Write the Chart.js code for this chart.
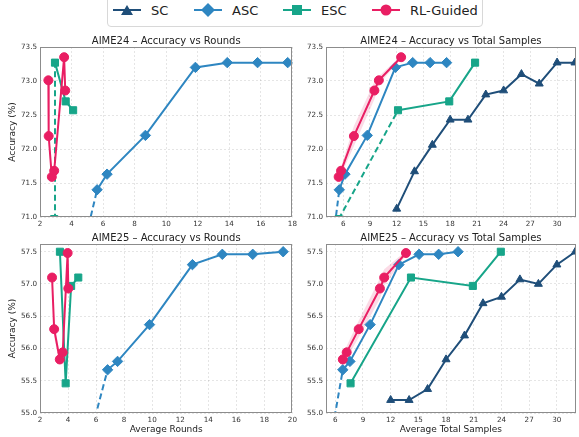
<!DOCTYPE html>
<html>
<head>
<meta charset="utf-8">
<script src="https://cdn.jsdelivr.net/npm/chart.js@4.4.1/dist/chart.umd.min.js"></script>
<style>
html, body { margin: 0; padding: 0; background: #fff; overflow: hidden; }
#wrap { position: relative; width: 579px; height: 437px; overflow: hidden; font-family: "DejaVu Sans", sans-serif; }
#wrap canvas { position: absolute; }
#legend { position: absolute; left: 107px; top: -4px; width: 376px; height: 31px; border: 1px solid #d8d8d8; border-radius: 4px; box-sizing: border-box; background: #fff; }
.lg { position: absolute; top: 4px; height: 20px; }
.lg svg { position: absolute; left: 0; top: 2px; }
.lg span { position: absolute; top: 0; font-size: 13px; line-height: 20px; color: #222; white-space: nowrap; }
</style>
</head>
<body>
<div id="wrap">
  <div id="legend"></div>
  <canvas id="c24r" width="300" height="201" style="left:0;top:28px"></canvas>
  <canvas id="c24s" width="282" height="201" style="left:300px;top:28px"></canvas>
  <canvas id="c25r" width="300" height="208" style="left:0;top:229px"></canvas>
  <canvas id="c25s" width="282" height="208" style="left:300px;top:229px"></canvas>
</div>
<script>
const seriesNames = ['SC', 'ASC', 'ESC', 'RL-Guided'];

// AIME24
const a24ScSamples = [12, 14, 16, 18, 20, 22, 24, 26, 28, 30, 32];
const a24ScAcc = [71.12, 71.67, 72.06, 72.43, 72.43, 72.80, 72.86, 73.10, 72.96, 73.27, 73.27];
const a24AscRounds = [4.8, 5.62, 6.25, 8.68, 11.85, 13.87, 15.79, 17.7];
const a24AscSamples = [4.8, 5.56, 6.2, 8.7, 11.86, 13.8, 15.75, 17.6];
const a24AscAcc = [70.6, 71.40, 71.63, 72.20, 73.20, 73.27, 73.27, 73.27];
const a24EscRounds = [2.9, 4.1, 3.63, 2.95];
const a24EscSamples = [5.5, 12.15, 17.9, 20.8];
const a24EscAcc = [70.97, 72.57, 72.70, 73.27];
const a24RlRounds = [2.75, 2.9, 2.55, 3.6, 2.53, 3.53];
const a24RlSamples = [5.49, 5.76, 7.2, 9.5, 10.0, 12.5];
const a24RlAcc = [71.59, 71.68, 72.19, 72.86, 73.01, 73.35];
const a24RlStd = [0.03, 0.06, 0.15, 0.13, 0.06, 0.02];

// AIME25
const a25ScSamples = [12, 14, 16, 18, 20, 22, 24, 26, 28, 30, 32];
const a25ScAcc = [55.20, 55.20, 55.37, 55.83, 56.20, 56.70, 56.80, 57.07, 57.00, 57.30, 57.50];
const a25AscRounds = [5.4, 6.82, 7.53, 9.81, 12.87, 15.0, 17.17, 19.34];
const a25AscSamples = [5.4, 6.82, 7.59, 9.78, 12.9, 15.08, 17.2, 19.3];
const a25AscAcc = [54.5, 55.67, 55.80, 56.37, 57.30, 57.46, 57.46, 57.50];
const a25EscRounds = [3.83, 4.73, 4.22, 3.42];
const a25EscSamples = [7.66, 14.2, 20.9, 23.93];
const a25EscAcc = [55.46, 57.10, 56.97, 57.50];
const a25RlRounds = [3.41, 3.62, 3.01, 4.02, 2.86, 3.97];
const a25RlSamples = [6.82, 7.24, 8.54, 10.84, 11.3, 13.66];
const a25RlAcc = [55.83, 55.94, 56.30, 56.93, 57.10, 57.48];
const a25RlStd = [0.08, 0.10, 0.13, 0.16, 0.13, 0.03];

// ticks
const roundTicks24 = [2, 4, 6, 8, 10, 12, 14, 16, 18];
const roundTicks25 = [2, 4, 6, 8, 10, 12, 14, 16, 18, 20];
const sampleTicks = [6, 9, 12, 15, 18, 21, 24, 27, 30];
const accTicks24 = [71.0, 71.5, 72.0, 72.5, 73.0, 73.5];
const accTicks25 = [55.0, 55.5, 56.0, 56.5, 57.0, 57.5];

const FONT = 'DejaVu Sans';
const colors = ['#1f4e79', '#2e86c1', '#17a589', '#e91e63'];
const shapes = ['triangle', 'rectRot', 'rect', 'circle'];
const sizes = [4.6, 5.2, 5.0, 4.5];

// legend (html)
const legendX = [5, 86, 175, 264];
const legendEl = document.getElementById('legend');
seriesNames.forEach((name, i) => {
  const c = colors[i];
  let mk = '';
  if (i === 0) mk = `<polygon points="14,2 20,12 8,12" fill="${c}"/>`;
  if (i === 1) mk = `<polygon points="14,0 21,7 14,14 7,7" fill="${c}"/>`;
  if (i === 2) mk = `<rect x="9" y="2" width="10" height="10" fill="${c}"/>`;
  if (i === 3) mk = `<circle cx="14" cy="7" r="5.5" fill="${c}"/>`;
  const d = document.createElement('div');
  d.className = 'lg';
  d.style.left = legendX[i] + 'px';
  d.innerHTML = `<svg width="30" height="16"><line x1="0" y1="7" x2="28" y2="7" stroke="${c}" stroke-width="2"/>${mk}</svg><span style="left:38px">${name}</span>`;
  legendEl.appendChild(d);
});

function pts(xs, ys) { return xs.map((x, i) => ({ x: x, y: ys[i] })); }
function order(xs, sortX) {
  const idx = xs.map((_, i) => i);
  return sortX ? idx.sort((a, b) => xs[a] - xs[b]) : idx;
}

function series(k, xs, ys, sortX, dashFirst) {
  const idx = order(xs, sortX);
  const c = colors[k];
  return {
    label: seriesNames[k],
    data: idx.map(i => ({ x: xs[i], y: ys[i] })),
    borderColor: c, backgroundColor: c,
    pointBackgroundColor: c, pointBorderColor: c,
    borderWidth: 2, pointStyle: shapes[k], pointRadius: sizes[k], pointHoverRadius: sizes[k],
    pointBorderWidth: 1, fill: false, tension: 0, order: 4 - k,
    segment: { borderDash: ctx => (dashFirst && ctx.p0DataIndex === 0) ? [6, 3.5] : undefined }
  };
}

function band(xs, ys, sd, sortX) {
  const idx = order(xs, sortX);
  return [
    { data: idx.map(i => ({ x: xs[i], y: ys[i] + sd[i] })), borderWidth: 0, borderColor: 'rgba(0,0,0,0)',
      pointRadius: 0, fill: '+1', backgroundColor: 'rgba(233,30,99,0.16)', order: 9 },
    { data: idx.map(i => ({ x: xs[i], y: ys[i] - sd[i] })), borderWidth: 0, borderColor: 'rgba(0,0,0,0)',
      pointRadius: 0, fill: false, order: 9 }
  ];
}

const framePlugin = {
  id: 'frame',
  afterDatasetsDraw(chart) {
    const { ctx, chartArea: a } = chart;
    ctx.save();
    ctx.strokeStyle = '#8c8c8c';
    ctx.lineWidth = 1;
    ctx.strokeRect(Math.round(a.left) + 0.5, Math.round(a.top) + 0.5, Math.round(a.right - a.left) - 1, Math.round(a.bottom - a.top) - 1);
    ctx.restore();
  }
};

function panel(id, p) {
  new Chart(document.getElementById(id), {
    type: 'line',
    data: { datasets: p.datasets },
    options: {
      responsive: false, animation: false, devicePixelRatio: 1, events: [],
      layout: { padding: { left: 0, right: p.padRight, top: 0, bottom: 0 } },
      plugins: {
        legend: { display: false }, tooltip: { enabled: false },
        title: { display: true, text: p.title, fullSize: false, color: '#222',
                 font: { family: FONT, size: 10, weight: 'normal' }, padding: { top: p.titleTop, bottom: 0 } }
      },
      scales: {
        x: {
          type: 'linear', min: p.xMin, max: p.xMax,
          afterBuildTicks: s => { s.ticks = p.xTicks.map(v => ({ value: v })); },
          afterFit: s => { s.height = p.xH; },
          ticks: { font: { family: FONT, size: 7.2 }, color: '#333', padding: 3, autoSkip: false, maxRotation: 0, callback: v => String(v) },
          grid: { color: 'rgba(0,0,0,0.13)', lineWidth: 0.8, drawTicks: false },
          border: { display: false, dash: [2, 2] },
          title: { display: !!p.xTitle, text: p.xTitle || '', color: '#222', font: { family: FONT, size: 9 }, padding: { top: 0, bottom: 2 } }
        },
        y: {
          type: 'linear', min: p.yMin, max: p.yMax,
          afterBuildTicks: s => { s.ticks = p.yTicks.map(v => ({ value: v })); },
          afterFit: s => { s.width = p.yW; },
          ticks: { font: { family: FONT, size: 7.2 }, color: '#333', padding: 3, autoSkip: false, callback: v => v.toFixed(1) },
          grid: { color: 'rgba(0,0,0,0.13)', lineWidth: 0.8, drawTicks: false },
          border: { display: false, dash: [2, 2] },
          title: { display: !!p.yTitle, text: p.yTitle || '', color: '#222', font: { family: FONT, size: 9 }, padding: { top: 7, bottom: 0 } }
        }
      }
    },
    plugins: [framePlugin]
  });
}

panel('c24r', {
  title: 'AIME24 – Accuracy vs Rounds', titleTop: 7, padRight: 6,
  xMin: 2, xMax: 18, xTicks: roundTicks24, xH: 12,
  yMin: 71.0, yMax: 73.5, yTicks: accTicks24, yW: 40, yTitle: 'Accuracy (%)',
  datasets: [
    ...band(a24RlRounds, a24RlAcc, a24RlStd, true),
    series(1, a24AscRounds, a24AscAcc, true, true),
    series(2, a24EscRounds, a24EscAcc, true, true),
    series(3, a24RlRounds, a24RlAcc, true, false)
  ]
});

panel('c24s', {
  title: 'AIME24 – Accuracy vs Total Samples', titleTop: 7, padRight: 1,
  xMin: 4.07, xMax: 32.1, xTicks: sampleTicks, xH: 12,
  yMin: 71.0, yMax: 73.5, yTicks: accTicks24, yW: 26,
  datasets: [
    ...band(a24RlSamples, a24RlAcc, a24RlStd, false),
    series(0, a24ScSamples, a24ScAcc, false, false),
    series(1, a24AscSamples, a24AscAcc, false, true),
    series(2, a24EscSamples, a24EscAcc, false, true),
    series(3, a24RlSamples, a24RlAcc, false, false)
  ]
});

panel('c25r', {
  title: 'AIME25 – Accuracy vs Rounds', titleTop: 3, padRight: 6,
  xMin: 2, xMax: 20, xTicks: roundTicks25, xH: 24, xTitle: 'Average Rounds',
  yMin: 55.0, yMax: 57.62, yTicks: accTicks25, yW: 40, yTitle: 'Accuracy (%)',
  datasets: [
    ...band(a25RlRounds, a25RlAcc, a25RlStd, true),
    series(1, a25AscRounds, a25AscAcc, true, true),
    series(2, a25EscRounds, a25EscAcc, true, false),
    series(3, a25RlRounds, a25RlAcc, true, false)
  ]
});

panel('c25s', {
  title: 'AIME25 – Accuracy vs Total Samples', titleTop: 3, padRight: 1,
  xMin: 5.0, xMax: 32.05, xTicks: sampleTicks, xH: 24, xTitle: 'Average Total Samples',
  yMin: 55.0, yMax: 57.62, yTicks: accTicks25, yW: 26,
  datasets: [
    ...band(a25RlSamples, a25RlAcc, a25RlStd, false),
    series(0, a25ScSamples, a25ScAcc, false, false),
    series(1, a25AscSamples, a25AscAcc, false, true),
    series(2, a25EscSamples, a25EscAcc, false, false),
    series(3, a25RlSamples, a25RlAcc, false, false)
  ]
});
</script>
</body>
</html>
